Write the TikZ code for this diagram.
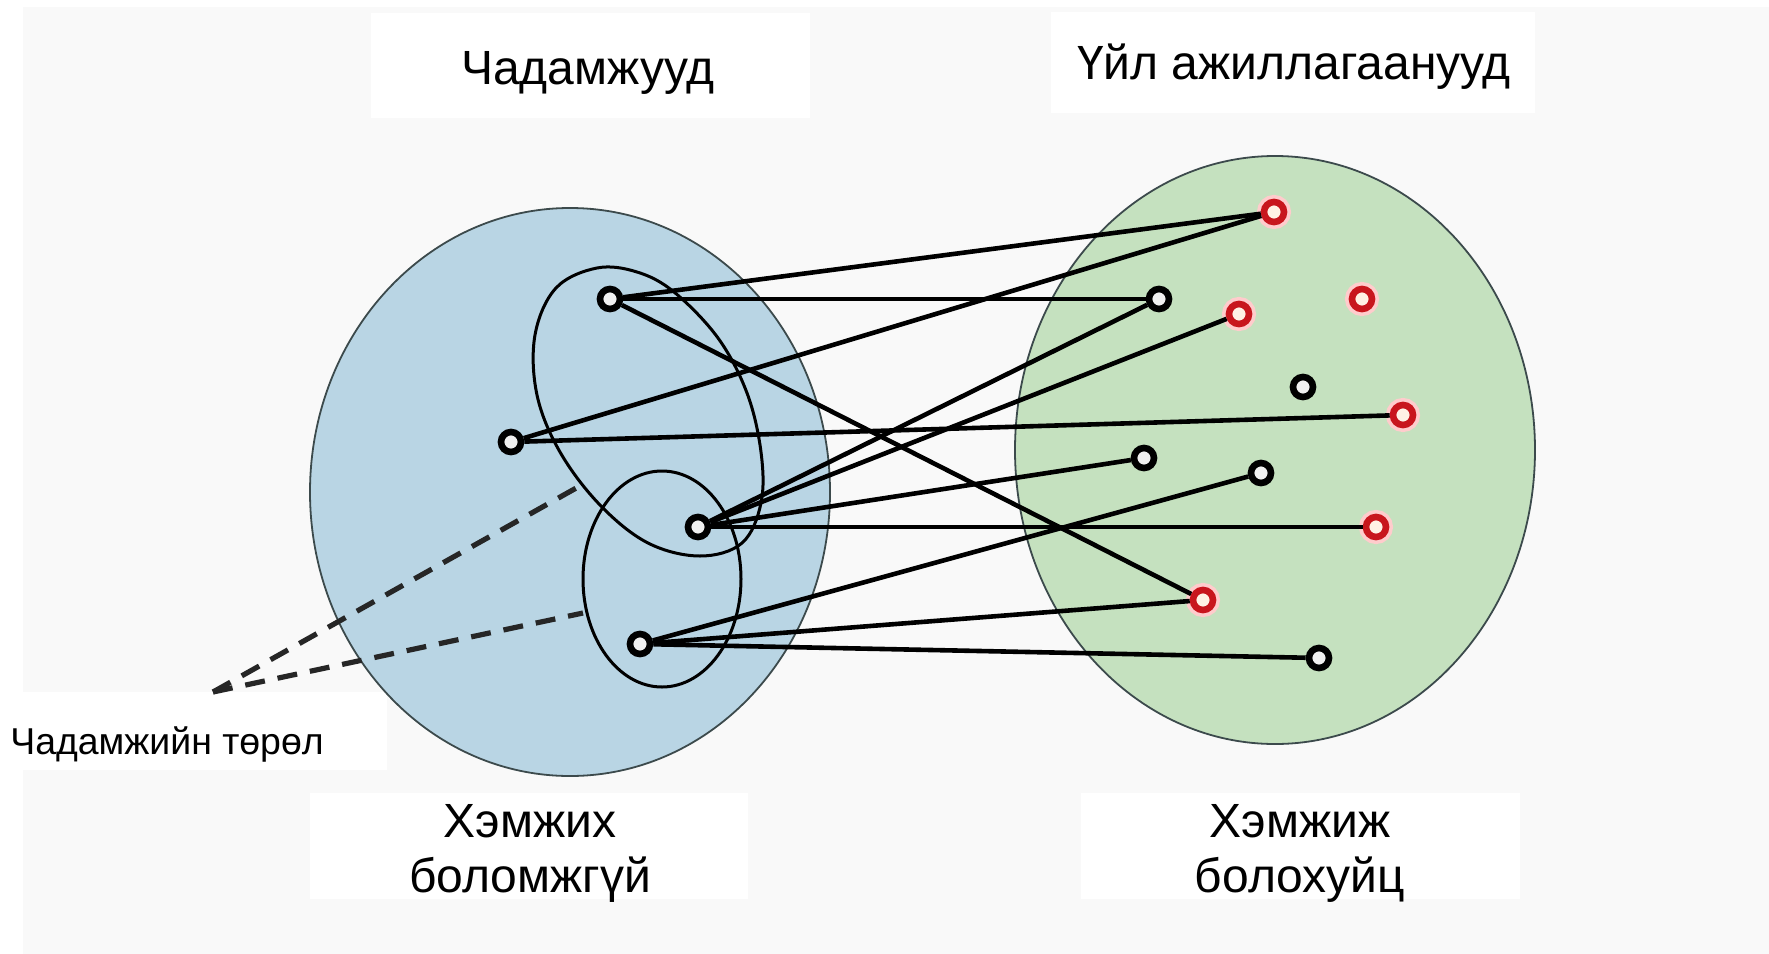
\documentclass[tikz,border=0pt]{standalone}
\usepackage{fontspec}
\setmainfont{Liberation Sans}
\definecolor{bgray}{HTML}{F9F9F9}
\definecolor{blueF}{HTML}{B9D5E4}
\definecolor{greenF}{HTML}{C5E1BF}
\definecolor{redN}{HTML}{C8161D}
\definecolor{rimG}{HTML}{3C4A4C}
\begin{document}
\begin{tikzpicture}[x=0.5pt,y=-0.5pt,
  bnode/.style={circle, draw=black, fill=black!6, line width=3.3pt, inner sep=0pt, minimum size=10pt},
  rnode/.style={circle, draw=redN, fill=orange!10, line width=3.3pt, inner sep=0pt, minimum size=10pt,
                preaction={draw=red!20, line width=7pt}},
  link/.style={line width=2.3pt, draw=black},
  loopline/.style={line width=1.5pt, draw=black},
  dashline/.style={line width=2.6pt, draw=black!85, dash pattern=on 10pt off 6.5pt},
  big/.style={inner sep=0pt, font=\fontsize{24pt}{28pt}\selectfont},
  small/.style={inner sep=0pt, font=\fontsize{18.7pt}{22pt}\selectfont},
  whitebox/.style={fill=white}
]
\useasboundingbox (0,0) rectangle (1769,954);
% background
\fill[white] (0,0) rectangle (1769,954);
\fill[bgray] (23,7) rectangle (1769,954);
% label boxes
\fill[whitebox] (371,13) rectangle (810,118);
\fill[whitebox] (1051,12) rectangle (1535,113);
\fill[whitebox] (0,692) rectangle (387,770);
\fill[whitebox] (310,793) rectangle (748,899);
\fill[whitebox] (1081,793) rectangle (1520,899);
% big sets
\draw[fill=blueF, draw=rimG, line width=0.9pt] (570,492) ellipse [x radius=130pt, y radius=142pt];
\draw[fill=greenF, draw=rimG, line width=0.9pt] (1275,450) ellipse [x radius=130pt, y radius=147pt];
% competency types
\draw[loopline] plot[smooth cycle, tension=0.6] coordinates {
  (597,268) (556,288) (535,335) (537,395) (560,452) (600,505) (648,543) (700,556)
  (742,543) (761,503) (761,452) (747,393) (718,338) (674,292) (637,272)};
\draw[loopline] (662,579) ellipse [x radius=39.5pt, y radius=54pt];
% dashed pointers
\coordinate (dl) at (213,692);
\coordinate (d1) at (578,487);
\coordinate (d2) at (583,613);
\draw[dashline] (dl) -- (d1);
\draw[dashline] (dl) -- (d2);
% nodes
\node[bnode] (A) at (610,299) {};
\node[bnode] (B) at (511,442) {};
\node[bnode] (C) at (698,527) {};
\node[bnode] (D) at (640,644) {};
\node[bnode] (E) at (1159,299) {};
\node[bnode] (F) at (1303,387) {};
\node[bnode] (G) at (1144,458) {};
\node[bnode] (H) at (1261,473) {};
\node[bnode] (I) at (1319,658) {};
\node[rnode] (R1) at (1274,212) {};
\node[rnode] (R2) at (1239,314) {};
\node[rnode] (R3) at (1362,299) {};
\node[rnode] (R4) at (1403,415) {};
\node[rnode] (R5) at (1376,527) {};
\node[rnode] (R6) at (1203,600) {};
% links
\draw[link] (A) -- (R1);
\draw[link] (A) -- (E);
\draw[link] (A) -- (R6);
\draw[link] (B) -- (R1);
\draw[link] (B) -- (R4);
\draw[link] (C) -- (E);
\draw[link] (C) -- (R2);
\draw[link] (C) -- (G);
\draw[link] (C) -- (R5);
\draw[link] (D) -- (H);
\draw[link] (D) -- (R6);
\draw[link] (D) -- (I);
% texts
\node[big, anchor=base] (t1) at (588,84) {Чадамжууд};
\node[big, anchor=base] (t2) at (1294,79) {Үйл ажиллагаанууд};
\node[small, anchor=base west] (t3) at (10,754) {Чадамжийн төрөл};
\node[big, anchor=base] (t4a) at (530,837) {Хэмжих};
\node[big, anchor=base] (t4b) at (530,892) {боломжгүй};
\node[big, anchor=base] (t5a) at (1300,837) {Хэмжиж};
\node[big, anchor=base] (t5b) at (1300,892) {болохуйц};
\end{tikzpicture}
\end{document}
